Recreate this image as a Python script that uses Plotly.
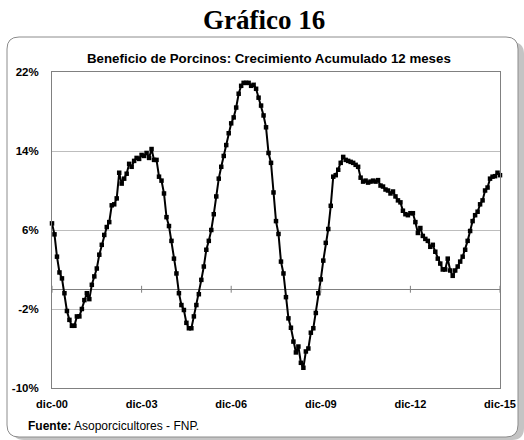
import plotly.graph_objects as go

# ---------------- data ----------------
MONTHS_ES = ["ene", "feb", "mar", "abr", "may", "jun", "jul", "ago", "sep", "oct", "nov", "dic"]
START_YEAR = 2000
START_MONTH = 12

GROWTH = [
    6.67, 5.56, 3.3, 1.7, 1.1, -0.4, -2.2, -3.1, -3.7, -3.7,
    -2.75, -2.75, -2.0, -1.1, -0.4, -1.0, 0.45, 1.3, 2.1, 3.5,
    4.5, 5.5, 6.3, 6.8, 8.5, 8.6, 9.2, 11.8, 10.7, 11.2,
    11.7, 12.7, 12.4, 13.0, 13.3, 13.2, 13.6, 13.5, 13.8, 13.3,
    14.2, 13.1, 13.1, 11.4, 11.0, 9.7, 7.3, 6.4, 4.9, 3.1,
    1.6, -0.4, -1.6, -2.1, -3.4, -3.95, -3.95, -2.75, -1.6, -0.5,
    0.95, 2.3, 4.0, 4.9, 6.0, 7.6, 9.4, 11.2, 12.4, 13.5,
    14.6, 15.8, 16.8, 17.4, 18.4, 19.8, 20.6, 20.9, 20.9, 20.9,
    20.6, 20.7, 20.3, 19.4, 18.6, 17.6, 16.4, 13.8, 12.8, 9.8,
    6.9, 5.6, 2.8, 1.6, -0.8, -2.95, -3.9, -5.3, -6.4, -5.8,
    -7.45, -7.95, -6.3, -6.0, -4.4, -3.95, -2.4, -0.4, 1.0, 2.9,
    4.7, 6.1, 8.45, 11.4, 11.55, 12.1, 12.8, 13.4, 13.1, 13.0,
    12.9, 12.8, 12.6, 12.4, 11.3, 10.9, 11.0, 10.8, 10.9, 11.0,
    10.9, 11.05, 10.5, 10.4, 10.1, 10.0, 9.7, 9.9, 9.4, 9.0,
    8.8, 7.95, 7.6, 7.5, 7.7, 7.7, 6.8, 5.7, 6.2, 5.4,
    5.1, 4.9, 4.3, 4.5, 3.8, 3.1, 2.6, 2.0, 2.0, 3.1,
    1.9, 1.36, 1.9, 2.3, 2.8, 3.3, 4.0, 4.9, 5.9, 6.9,
    7.5, 7.85, 8.6, 9.0, 10.0, 10.3, 11.2, 11.4, 11.45, 11.8,
    11.55,
]

TICK_LABELS = ["dic-00", "dic-03", "dic-06", "dic-09", "dic-12", "dic-15"]
Y_TICKS = [-10, -2, 6, 14, 22]
Y_TICK_LABELS = ["-10%", "-2%", "6%", "14%", "22%"]

TITLE = "Gráfico 16"
CHART_TITLE = "Beneficio de Porcinos: Crecimiento Acumulado 12 meses"
SOURCE = "<b>Fuente:</b> Asoporcicultores - FNP."

# ---------------- build ----------------
periods = []
yr, mo = START_YEAR, START_MONTH
for _ in GROWTH:
    periods.append(f"{MONTHS_ES[mo - 1]}-{yr % 100:02d}")
    mo += 1
    if mo > 12:
        mo = 1
        yr += 1
xs = list(range(len(GROWTH)))
tick_pos = [periods.index(t) for t in TICK_LABELS]

W, H = 524, 440
# plot area in page pixels
L, R, T, B = 52, 500, 72, 388


def px(x):
    return (x - L) / (R - L)


def py(y):
    return (B - y) / (B - T)


def rounded_rect(x0, y0, x1, y1, r):
    return (
        f"M {px(x0 + r)},{py(y0)} L {px(x1 - r)},{py(y0)} "
        f"Q {px(x1)},{py(y0)} {px(x1)},{py(y0 + r)} "
        f"L {px(x1)},{py(y1 - r)} Q {px(x1)},{py(y1)} {px(x1 - r)},{py(y1)} "
        f"L {px(x0 + r)},{py(y1)} Q {px(x0)},{py(y1)} {px(x0)},{py(y1 - r)} "
        f"L {px(x0)},{py(y0 + r)} Q {px(x0)},{py(y0)} {px(x0 + r)},{py(y0)} Z"
    )


FONT = "Liberation Sans, Arial, sans-serif"

fig = go.Figure()
fig.add_trace(go.Scatter(
    x=xs, y=GROWTH, mode="lines+markers",
    line=dict(color="black", width=2),
    marker=dict(symbol="square", size=4.5, color="black"),
    text=periods, hovertemplate="%{text}: %{y:.1f}%<extra></extra>",
    cliponaxis=False, showlegend=False,
))

shapes = [
    dict(type="path", xref="paper", yref="paper", layer="below",
         path=rounded_rect(12, 42, 524, 440, 12), fillcolor="#c4c4c4", line=dict(width=0)),
    dict(type="path", xref="paper", yref="paper", layer="below",
         path=rounded_rect(7, 37, 518, 437, 12), fillcolor="white",
         line=dict(color="#8c8c8c", width=1)),
]
for tp in tick_pos:
    shapes.append(dict(type="line", xref="x", yref="y", x0=tp, x1=tp, y0=-0.35, y1=0.35,
                       line=dict(color="#808080", width=1)))

fig.update_layout(
    width=W, height=H, autosize=False,
    margin=dict(l=L, r=W - R, t=T, b=H - B, pad=0, autoexpand=False),
    paper_bgcolor="white", plot_bgcolor="white",
    font=dict(family=FONT, color="black"),
    shapes=shapes,
    xaxis=dict(range=[0, len(GROWTH) - 1], tickvals=tick_pos, ticktext=TICK_LABELS,
               automargin=False,
               showgrid=False, zeroline=False, showline=True, mirror=True,
               linecolor="#808080", linewidth=1, ticks="",
               tickfont=dict(family=FONT, size=11, weight="bold"), ticklabelstandoff=6),
    yaxis=dict(range=[-10, 22], tickvals=Y_TICKS, ticktext=Y_TICK_LABELS,
               automargin=False,
               showgrid=True, gridcolor="#bdbdbd", gridwidth=1,
               zeroline=True, zerolinecolor="#808080", zerolinewidth=1,
               showline=True, mirror=True, linecolor="#808080", linewidth=1, ticks="",
               tickfont=dict(family=FONT, size=11.5, weight="bold"), ticklabelstandoff=10),
    annotations=[
        dict(text=f"<b>{TITLE}</b>", xref="paper", yref="paper", x=px(264), y=py(20),
             xanchor="center", yanchor="middle", showarrow=False, borderpad=0,
             font=dict(family="Liberation Serif, Times New Roman, serif", size=27, color="black")),
        dict(text=f"<b>{CHART_TITLE}</b>", xref="paper", yref="paper", x=px(269), y=py(58),
             xanchor="center", yanchor="middle", showarrow=False,
             font=dict(family=FONT, size=13.3, color="black")),
        dict(text=SOURCE, xref="paper", yref="paper", x=px(26), y=py(426),
             xanchor="left", yanchor="middle", showarrow=False,
             font=dict(family=FONT, size=12, color="black")),
    ],
)

fig.write_html("out.html", config={"displayModeBar": False},
               post_script="document.body.style.margin='0px';")
